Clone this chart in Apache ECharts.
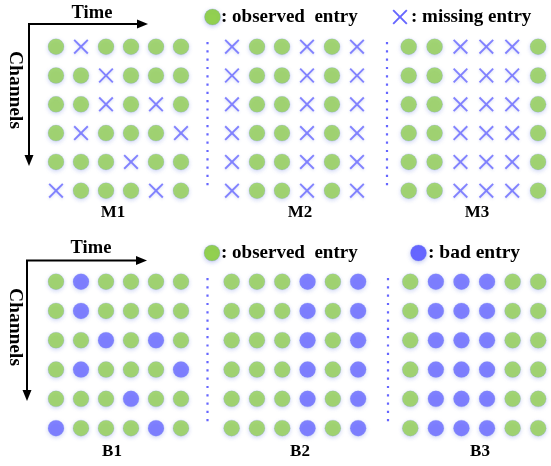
<!DOCTYPE html>
<html><head><meta charset="utf-8">
<script src="https://cdn.jsdelivr.net/npm/echarts@6/dist/echarts.min.js"></script>
<style>html,body{margin:0;padding:0;background:#fff}#c{width:551px;height:466px}</style>
</head><body><div id="c"></div>
<script>
// 1 = observed entry, 0 = missing (M panels) / bad (B panels) entry; rows = channels, columns = time
const M1 = [
  [1,0,1,1,1,1],
  [1,1,0,1,1,1],
  [1,1,0,1,0,1],
  [1,0,1,1,1,0],
  [1,1,1,0,1,1],
  [0,1,1,1,0,1]
];
const M2 = [
  [0,1,1,0,1,0],
  [0,1,1,0,1,0],
  [0,1,1,0,1,0],
  [0,1,1,0,1,0],
  [0,1,1,0,1,0],
  [0,1,1,0,1,0]
];
const M3 = [
  [1,1,0,0,0,1],
  [1,1,0,0,0,1],
  [1,1,0,0,0,1],
  [1,1,0,0,0,1],
  [1,1,0,0,0,1],
  [1,1,0,0,0,1]
];
const B1 = [
  [1,0,1,1,1,1],
  [1,0,1,1,1,1],
  [1,1,0,1,0,1],
  [1,0,1,1,1,0],
  [1,1,1,0,1,1],
  [0,1,1,1,0,1]
];
const B2 = [
  [1,1,1,0,1,0],
  [1,1,1,0,1,0],
  [1,1,1,0,1,0],
  [1,1,1,0,1,0],
  [1,1,1,0,1,0],
  [1,1,1,0,1,0]
];
const B3 = [
  [1,0,0,0,1,1],
  [1,0,0,0,1,1],
  [1,0,0,0,1,1],
  [1,0,0,0,1,1],
  [1,0,0,0,1,1],
  [1,0,0,0,1,1]
];
const panelNames = ['M1','M2','M3','B1','B2','B3'];
const panelData = [M1, M2, M3, B1, B2, B3];
const axisTitles = ['Time', 'Channels'];
const legendTexts = [': observed  entry', ': missing entry', ': observed  entry', ': bad entry'];

const GREEN = '#92d050', BLUE = '#6666ff';
const FONT = '"Liberation Serif","Times New Roman",serif';
const XPTS = [[0,9],[9,0],[50,41],[91,0],[100,9],[59,50],[100,91],[91,100],[50,59],[9,100],[0,91],[41,50]];
const XPATH = 'path://M' + XPTS.map(p => p.join(',')).join(' L') + ' Z';

const grids = [
  {left: 43.5, width: 150, top: 32.3, height: 172.8},
  {left: 219.5, width: 150, top: 32.3, height: 172.8},
  {left: 395.8, width: 158.4, top: 32.3, height: 172.8},
  {left: 43.5, width: 150, top: 267, height: 175.8},
  {left: 219, width: 151.8, top: 267, height: 175.8},
  {left: 397.5, width: 158.4, top: 267, height: 175.8}
];

const circleStyle = (c) => ({color: c, borderColor: 'rgba(120,140,230,0.5)', borderWidth: 0.5,
  shadowBlur: 4, shadowColor: 'rgba(90,110,220,0.35)', shadowOffsetY: 1.5});

const xAxes = [], yAxes = [], series = [];
panelData.forEach((mat, p) => {
  xAxes.push({type: 'value', gridIndex: p, min: -0.5, max: 5.5, show: false});
  yAxes.push({type: 'value', gridIndex: p, min: -0.5, max: 5.5, inverse: true, show: false});
  const good = [], other = [];
  mat.forEach((row, r) => row.forEach((v, c) => (v ? good : other).push([c, r])));
  series.push({type: 'scatter', xAxisIndex: p, yAxisIndex: p, data: good, symbol: 'circle',
    symbolSize: 16, itemStyle: circleStyle(GREEN), silent: true});
  const isM = panelNames[p][0] === 'M';
  series.push({type: 'scatter', xAxisIndex: p, yAxisIndex: p, data: other,
    symbol: isM ? XPATH : 'circle', symbolSize: isM ? 15 : 16,
    itemStyle: isM ? {color: BLUE, shadowBlur: 3, shadowColor: 'rgba(90,110,220,0.3)', shadowOffsetY: 1}
                   : circleStyle(BLUE), silent: true});
});

const graphic = [];
function txt(x, y, s, size, rot) {
  graphic.push({type: 'text', x: x, y: y, rotation: rot || 0,
    style: {text: s, font: 'bold ' + size + 'px ' + FONT, fill: '#000', align: 'center', verticalAlign: 'middle'}});
}
function ltxt(x, y, s, size) {
  graphic.push({type: 'text', x: x, y: y,
    style: {text: s, font: 'bold ' + size + 'px ' + FONT, fill: '#000', align: 'left', verticalAlign: 'middle'}});
}
function arrows(ox, oy, hx, vy) {
  graphic.push({type: 'polyline', shape: {points: [[hx - 8, oy], [ox, oy], [ox, vy - 8]]},
    style: {stroke: '#000', lineWidth: 2, fill: null}});
  graphic.push({type: 'polygon', shape: {points: [[hx, oy], [hx - 11, oy - 4.5], [hx - 11, oy + 4.5]]}, style: {fill: '#000'}});
  graphic.push({type: 'polygon', shape: {points: [[ox, vy], [ox - 4.5, vy - 11], [ox + 4.5, vy - 11]]}, style: {fill: '#000'}});
}
function dots(x, y1, y2) {
  graphic.push({type: 'line', shape: {x1: x, y1: y1, x2: x, y2: y2},
    style: {stroke: BLUE, lineWidth: 2.2, lineDash: [2.2, 6.1], lineCap: 'butt'}});
}
function legendCircle(cx, cy, c) {
  graphic.push({type: 'circle', shape: {cx: cx, cy: cy, r: 8},
    style: {fill: c, stroke: 'rgba(120,140,230,0.5)', lineWidth: 0.5, shadowBlur: 4, shadowColor: 'rgba(90,110,220,0.35)', shadowOffsetY: 1.5}});
}

// top block
arrows(29, 24, 148, 166);
txt(92, 13, axisTitles[0], 18.5);
txt(15, 90, axisTitles[1], 19.5, -Math.PI / 2);
dots(207.5, 42, 188);
dots(387, 42, 188);
legendCircle(212.5, 17, GREEN);
ltxt(221, 17, legendTexts[0], 19);
graphic.push({type: 'polygon', shape: {points: XPTS.map(p => [392.5 + p[0] * 0.15, 9.5 + p[1] * 0.15])},
  style: {fill: BLUE}});
ltxt(411, 17, legendTexts[1], 19);
txt(113, 213, panelNames[0], 17);
txt(300, 213, panelNames[1], 17);
txt(477, 213, panelNames[2], 17);

// bottom block
arrows(27, 260.5, 147, 401);
txt(91, 248, axisTitles[0], 18.5);
txt(15, 327, axisTitles[1], 19.5, -Math.PI / 2);
dots(207.5, 278, 424);
dots(388, 278, 424);
legendCircle(212, 253, GREEN);
ltxt(221, 253, legendTexts[2], 19);
legendCircle(418.5, 253, BLUE);
ltxt(428, 253, legendTexts[3], 19.5);
txt(112, 452, panelNames[3], 17);
txt(300, 452, panelNames[4], 17);
txt(480, 452, panelNames[5], 17);

const chart = echarts.init(document.getElementById('c'), null, {renderer: 'canvas'});
chart.setOption({
  animation: false,
  backgroundColor: '#fff',
  grid: grids.map(g => Object.assign({containLabel: false}, g)),
  xAxis: xAxes,
  yAxis: yAxes,
  series: series,
  graphic: graphic
});
</script>
</body></html>
